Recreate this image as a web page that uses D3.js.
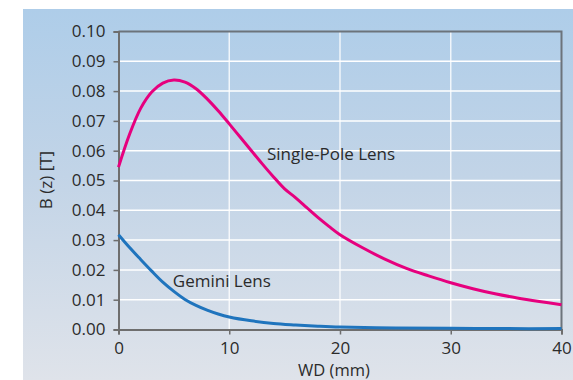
<!DOCTYPE html>
<html>
<head>
<meta charset="utf-8">
<script src="https://cdn.jsdelivr.net/npm/d3@7"></script>
<style>
  html, body { margin: 0; padding: 0; background: #ffffff; }
  svg { display: block; }
  text { font-family: "Open Sans", "DejaVu Sans", sans-serif; fill: #2b2b2b; }
</style>
</head>
<body>
<svg id="chart" width="573" height="380"></svg>
<script>
// ---- Data ----
const singlePoleX = [0, 1, 2, 3, 4, 5, 6, 7, 8, 9, 10, 11, 12, 13, 14, 15, 16, 17, 18, 19, 20, 22, 24, 26, 28, 30, 32, 34, 36, 38, 40];
const singlePoleB = [0.0545, 0.0655, 0.0742, 0.0797, 0.0827, 0.0837, 0.0830, 0.0808, 0.0774, 0.0734, 0.0690, 0.0645, 0.0600, 0.0555, 0.0512, 0.0472, 0.0442, 0.0409, 0.0376, 0.0346, 0.0318, 0.0275, 0.0237, 0.0205, 0.0180, 0.0157, 0.0137, 0.0120, 0.0106, 0.0094, 0.0083];
const geminiX = [0, 1, 2, 3, 4, 5, 6, 7, 8, 9, 10, 12, 14, 16, 18, 20, 25, 30, 35, 40];
const geminiB = [0.0318, 0.0275, 0.0235, 0.0196, 0.0159, 0.0128, 0.0101, 0.0081, 0.0065, 0.0052, 0.0042, 0.0029, 0.0020, 0.0015, 0.0011, 0.0008, 0.0005, 0.0004, 0.0003, 0.0003];
const xTicks = [0, 10, 20, 30, 40];
const yTicks = [0.00, 0.01, 0.02, 0.03, 0.04, 0.05, 0.06, 0.07, 0.08, 0.09, 0.10];
const seriesNames = ["Single-Pole Lens", "Gemini Lens"];
const xTitle = "WD (mm)";
const yTitle = "B (z) [T]";

// ---- Layout ----
const svg = d3.select("#chart");
const W = 573, H = 380;
const plot = { left: 118.5, right: 561.5, top: 31.5, bottom: 329.5 };

const defs = svg.append("defs");
const grad = defs.append("linearGradient").attr("id", "bg").attr("x1", 0).attr("y1", 0).attr("x2", 0).attr("y2", 1);
grad.append("stop").attr("offset", "0%").attr("stop-color", "#aecde9");
grad.append("stop").attr("offset", "45%").attr("stop-color", "#c2d4e7");
grad.append("stop").attr("offset", "100%").attr("stop-color", "#dfe3ea");

svg.append("rect").attr("x", 23).attr("y", 9).attr("width", W - 23).attr("height", H - 9).attr("fill", "url(#bg)");

const x = d3.scaleLinear().domain([0, 40]).range([plot.left, plot.right]);
const y = d3.scaleLinear().domain([0, 0.10]).range([plot.bottom, plot.top]);

// gridlines
svg.append("g").selectAll("line").data(yTicks.slice(1, -1)).join("line")
  .attr("x1", plot.left).attr("x2", plot.right)
  .attr("y1", d => y(d)).attr("y2", d => y(d))
  .attr("stroke", "#ffffff").attr("stroke-width", 1.5);
svg.append("g").selectAll("line").data(xTicks.slice(1, -1)).join("line")
  .attr("y1", plot.top).attr("y2", plot.bottom)
  .attr("x1", d => x(d)).attr("x2", d => x(d))
  .attr("stroke", "#ffffff").attr("stroke-opacity", 0.8).attr("stroke-width", 1.5);

// frame top/right
svg.append("path")
  .attr("d", `M${plot.left},${plot.top}H${plot.right}V${plot.bottom}`)
  .attr("fill", "none").attr("stroke", "#6c737b").attr("stroke-width", 2);

// axes
const yAxis = d3.axisLeft(y).tickValues(yTicks).tickFormat(d3.format(".2f")).tickSize(5).tickPadding(8);
const xAxis = d3.axisBottom(x).tickValues(xTicks).tickFormat(d3.format("d")).tickSize(5).tickPadding(7.5);

const gy = svg.append("g").attr("transform", `translate(${plot.left},0)`).call(yAxis);
const gx = svg.append("g").attr("transform", `translate(0,${plot.bottom})`).call(xAxis);
[gy, gx].forEach(g => {
  g.select(".domain").attr("stroke", "#6e6e6e").attr("stroke-width", 2);
  g.selectAll(".tick line").attr("stroke", "#6e6e6e").attr("stroke-width", 1.5);
  g.selectAll(".tick text").attr("font-size", 17).attr("fill", "#2b2b2b")
    .attr("font-family", "'Open Sans', sans-serif");
});

// lines
const line = d3.line().x(d => x(d[0])).y(d => y(d[1])).curve(d3.curveCatmullRom.alpha(0.5));
svg.append("path").datum(singlePoleX.map((v, i) => [v, singlePoleB[i]]))
  .attr("d", line).attr("fill", "none").attr("stroke", "#e6007e").attr("stroke-width", 3);
svg.append("path").datum(geminiX.map((v, i) => [v, geminiB[i]]))
  .attr("d", line).attr("fill", "none").attr("stroke", "#1f74bd").attr("stroke-width", 3);

// labels
svg.append("text").attr("x", x(13.4)).attr("y", y(0.0569)).attr("font-size", 17).text(seriesNames[0]);
svg.append("text").attr("x", x(4.9)).attr("y", y(0.0143)).attr("font-size", 17).text(seriesNames[1]);

svg.append("text").attr("x", (plot.left + plot.right) / 2 - 6).attr("y", 375.5).attr("text-anchor", "middle")
  .attr("font-size", 16.5).text(xTitle);
svg.append("text").attr("transform", `translate(52,180) rotate(-90)`).attr("text-anchor", "middle")
  .attr("font-size", 17).text(yTitle);
</script>
</body>
</html>
